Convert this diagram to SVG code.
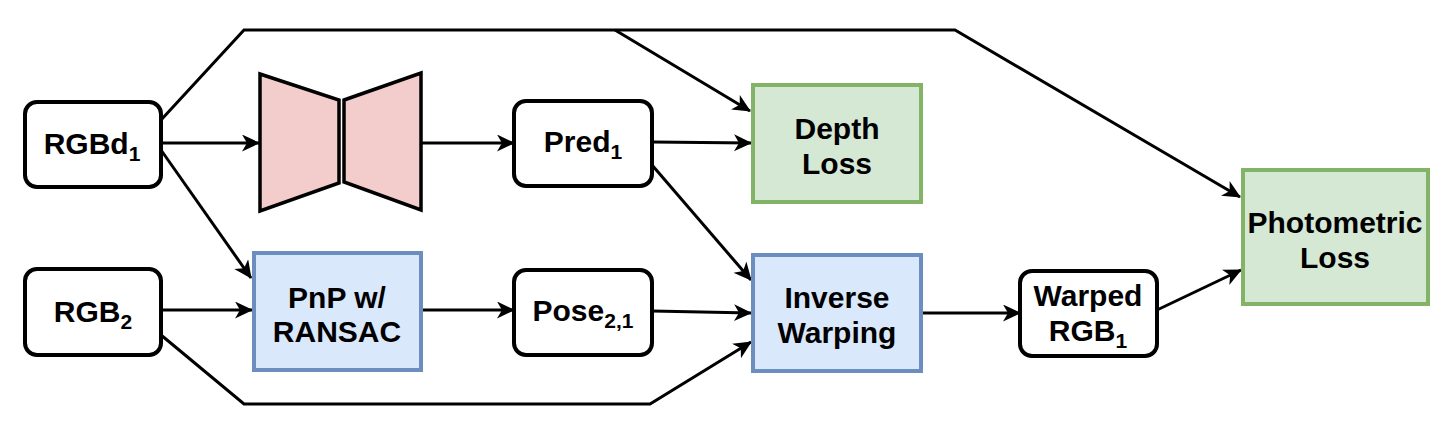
<svg xmlns="http://www.w3.org/2000/svg" width="1450" height="438" viewBox="0 0 1450 438">
<style>
.t{font-family:"Liberation Sans",Arial,Helvetica,sans-serif;font-weight:bold;font-size:30px;fill:#000;text-anchor:middle}
.s{font-size:21px}
.box{fill:#fff;stroke:#000;stroke-width:4}
.green{fill:#d5e8d4;stroke:#82b366;stroke-width:4}
.blue{fill:#dae8fc;stroke:#6c8ebf;stroke-width:4}
.enc{fill:#f2cdcb;stroke:#000;stroke-width:3.5;stroke-linejoin:miter}
.c{fill:none;stroke:#000;stroke-width:3;stroke-linejoin:miter}
.a{marker-end:url(#arr)}
</style>
<defs>
<marker id="arr" markerUnits="userSpaceOnUse" markerWidth="20" markerHeight="18" refX="17" refY="8.5" orient="auto">
<path d="M0,0 L18,8.5 L0,17 L5,8.5 Z" fill="#000"/>
</marker>
</defs>
<g id="connectors">
<path class="c a" d="M161,143 L259,143"/>
<path class="c a" d="M421,143 L514,143"/>
<path class="c a" d="M652,142 L751,143"/>
<path class="c a" d="M161,120 L244,30 L955,30 L1240,197"/>
<path class="c a" d="M615,30 L750,111"/>
<path class="c a" d="M161,150 L251,278"/>
<path class="c a" d="M161,310 L252,310"/>
<path class="c a" d="M161,335 L244,404 L650,404 L751,342"/>
<path class="c a" d="M423,310 L514,310"/>
<path class="c a" d="M652,165 L751,280"/>
<path class="c a" d="M652,311 L751,313"/>
<path class="c a" d="M923,313 L1020,313"/>
<path class="c a" d="M1157,310 L1241,270"/>
</g>
<g id="rgbd1">
<rect class="box" x="25" y="102" width="136" height="85" rx="12"/>
<text class="t" x="92" y="154">RGBd<tspan class="s" dy="7">1</tspan></text>
</g>
<g id="encoder">
<polygon class="enc" points="260,74 339,100 339,183 260,211"/>
<polygon class="enc" points="344,100 421,73 421,210 344,182"/>
</g>
<g id="pred1">
<rect class="box" x="514" y="101" width="138" height="85" rx="12"/>
<text class="t" x="583" y="152">Pred<tspan class="s" dy="7">1</tspan></text>
</g>
<g id="depthloss">
<rect class="green" x="753" y="85" width="168" height="117"/>
<text class="t" x="837" y="139">Depth</text>
<text class="t" x="837" y="174">Loss</text>
</g>
<g id="rgb2">
<rect class="box" x="25" y="269" width="136" height="86" rx="12"/>
<text class="t" x="93" y="322">RGB<tspan class="s" dy="7">2</tspan></text>
</g>
<g id="pnp">
<rect class="blue" x="254" y="253" width="167" height="117"/>
<text class="t" x="337" y="308">PnP w/</text>
<text class="t" x="337" y="342">RANSAC</text>
</g>
<g id="pose">
<rect class="box" x="514" y="270" width="138" height="85" rx="12"/>
<text class="t" x="583" y="321">Pose<tspan class="s" dy="7">2,1</tspan></text>
</g>
<g id="inversewarping">
<rect class="blue" x="753" y="255" width="168" height="116"/>
<text class="t" x="837" y="308">Inverse</text>
<text class="t" x="837" y="343">Warping</text>
</g>
<g id="warpedrgb1">
<rect class="box" x="1020" y="271" width="137" height="85" rx="12"/>
<text class="t" x="1088" y="306">Warped</text>
<text class="t" x="1088" y="341">RGB<tspan class="s" dy="7">1</tspan></text>
</g>
<g id="photometricloss">
<rect class="green" x="1243" y="170" width="185" height="134"/>
<text class="t" x="1335" y="233">Photometric</text>
<text class="t" x="1335" y="268">Loss</text>
</g>
</svg>
